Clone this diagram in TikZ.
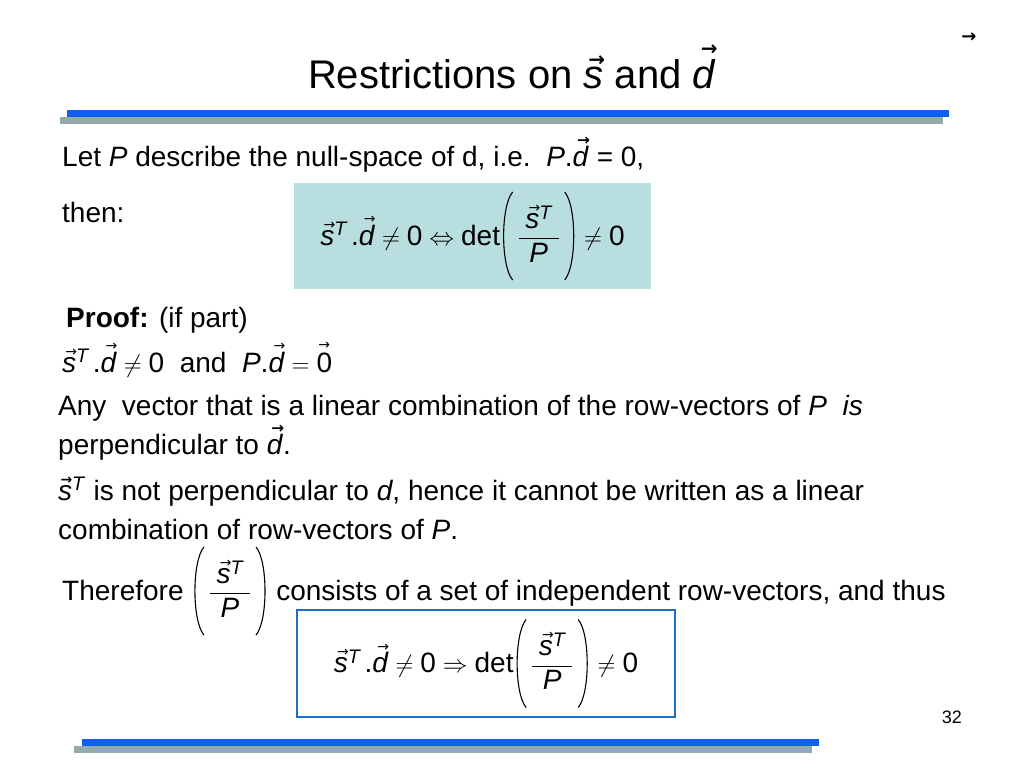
\documentclass[tikz,border=0pt]{standalone}
\usepackage{amsmath}
\usepackage{fontspec}
\setmainfont{Liberation Sans}
\newfontfamily\symfont{DejaVu Sans}

\definecolor{barblue}{RGB}{16,96,240}
\definecolor{bargray}{RGB}{149,170,170}
\definecolor{boxcyan}{RGB}{185,222,224}
\definecolor{boxline}{RGB}{30,110,200}

% vector arrow over a letter: [scale] raise, shift, letter
\newcommand{\arrowover}[4][0.5]{\ooalign{#4\cr\hidewidth\kern#3\raisebox{#2}{\scalebox{#1}{\symfont →}}\hidewidth\cr}}
\newcommand{\boldover}[4][0.5]{\ooalign{#4\cr\hidewidth\kern#3\raisebox{#2}{\scalebox{#1}{\symfont\bfseries →}}\hidewidth\cr}}
\newcommand{\vs}{\arrowover{0.56em}{0.15em}{\textit{s}}}
\newcommand{\vd}{\arrowover{0.76em}{0.2em}{\textit{d}}}
\newcommand{\vdb}{\boldover[0.55]{0.74em}{0.2em}{\textit{d}}}
\newcommand{\vsb}{\boldover[0.5]{0.56em}{0.1em}{\textit{s}}}
\newcommand{\vz}{\arrowover{0.8em}{0em}{0}}
\newcommand{\tvs}{\boldover[0.5]{0.54em}{0.15em}{\textit{s}}}
\newcommand{\tvd}{\boldover[0.5]{0.8em}{0.25em}{\textit{d}}}
% thin tall parentheses
\newcommand{\lpar}{\tikz[x=1pt,y=1pt,baseline=-9pt,line width=1.1pt]
  \draw (11,44) .. controls (-1,30) and (-1,-30) .. (11,-44);}
\newcommand{\rpar}{\tikz[x=1pt,y=1pt,baseline=-9pt,line width=1.1pt]
  \draw (0,44) .. controls (12,30) and (12,-30) .. (0,-44);}
\newcommand{\sT}{\text{\vs}^{\text{\itshape T}}}
\newcommand{\stp}{\text{\lpar}\,\genfrac{}{}{0.6pt}{0}{\;\sT\;}{\text{\itshape P}}\,\text{\rpar}}

\begin{document}
\begin{tikzpicture}[x=1pt,y=-1pt,
    txt/.style={anchor=base west, inner sep=0pt, font=\fontsize{28}{34}\selectfont},
    titletxt/.style={anchor=base, inner sep=0pt, font=\fontsize{40}{48}\selectfont},
    iffbox/.style={fill=boxcyan, inner sep=0pt, minimum width=357pt, minimum height=106pt,
      font=\fontsize{28}{34}\selectfont},
    impbox/.style={draw=boxline, line width=2pt, inner sep=0pt, minimum width=378pt,
      minimum height=107pt, font=\fontsize{28}{34}\selectfont}
  ]
  \useasboundingbox (0,0) rectangle (1024,768);

  % bars
  \fill[bargray] (60,117) rectangle (943,124);
  \fill[barblue] (67,110) rectangle (949,117);
  \fill[bargray] (74,746) rectangle (812,753);
  \fill[barblue] (82,739) rectangle (819,746);

  \node[titletxt] (title) at (512,88) {Restrictions on \tvs{} and \tvd};
  \node[anchor=base, inner sep=0pt, font=\fontsize{18}{20}\symfont\bfseries] (corner) at (969,42) {→};

  \node[txt] (letP) at (62,166) {Let \textit{P} describe the null-space of d, i.e.\ \ \textit{P}.\vdb{} = 0,};
  \node[txt] (then) at (62,222) {then:};
  \node[iffbox] (iff) at (472.5,236)
    {$\sT\,\text{.\vd}\neq\text{0}\Leftrightarrow\text{det}\stp\neq\text{0}$};

  \node[txt] (proof) at (66,327) {\textbf{Proof:} (if part)};
  \node[txt] (cond) at (62,372)
    {$\sT\,\text{.\vd}\neq\text{0\ \ and\ \ \textit{P}.\vd}=\text{\vz}$};
  \node[txt] (anyvec) at (58,415) {Any\ \ vector that is a linear combination of the row-vectors of \textit{P}\ \ \textit{is}};
  \node[txt] (perp) at (58,454) {perpendicular to \vdb.};
  \node[txt] (snot) at (58,500) {\vsb\textsuperscript{\textit{T}} is not perpendicular to \textit{d}, hence it cannot be written as a linear};
  \node[txt] (combo) at (58,539) {combination of row-vectors of \textit{P}.};
  \node[txt] (therefore) at (62,600) {Therefore $\stp$ consists of a set of independent row-vectors, and thus};
  \node[impbox] (imp) at (486,663.5)
    {$\sT\,\text{.\vd}\neq\text{0}\Rightarrow\text{det}\stp\neq\text{0}$};

  \node[anchor=base east, inner sep=0pt, font=\fontsize{18}{20}\selectfont] (pagenum) at (962,723) {32};
\end{tikzpicture}
\end{document}
